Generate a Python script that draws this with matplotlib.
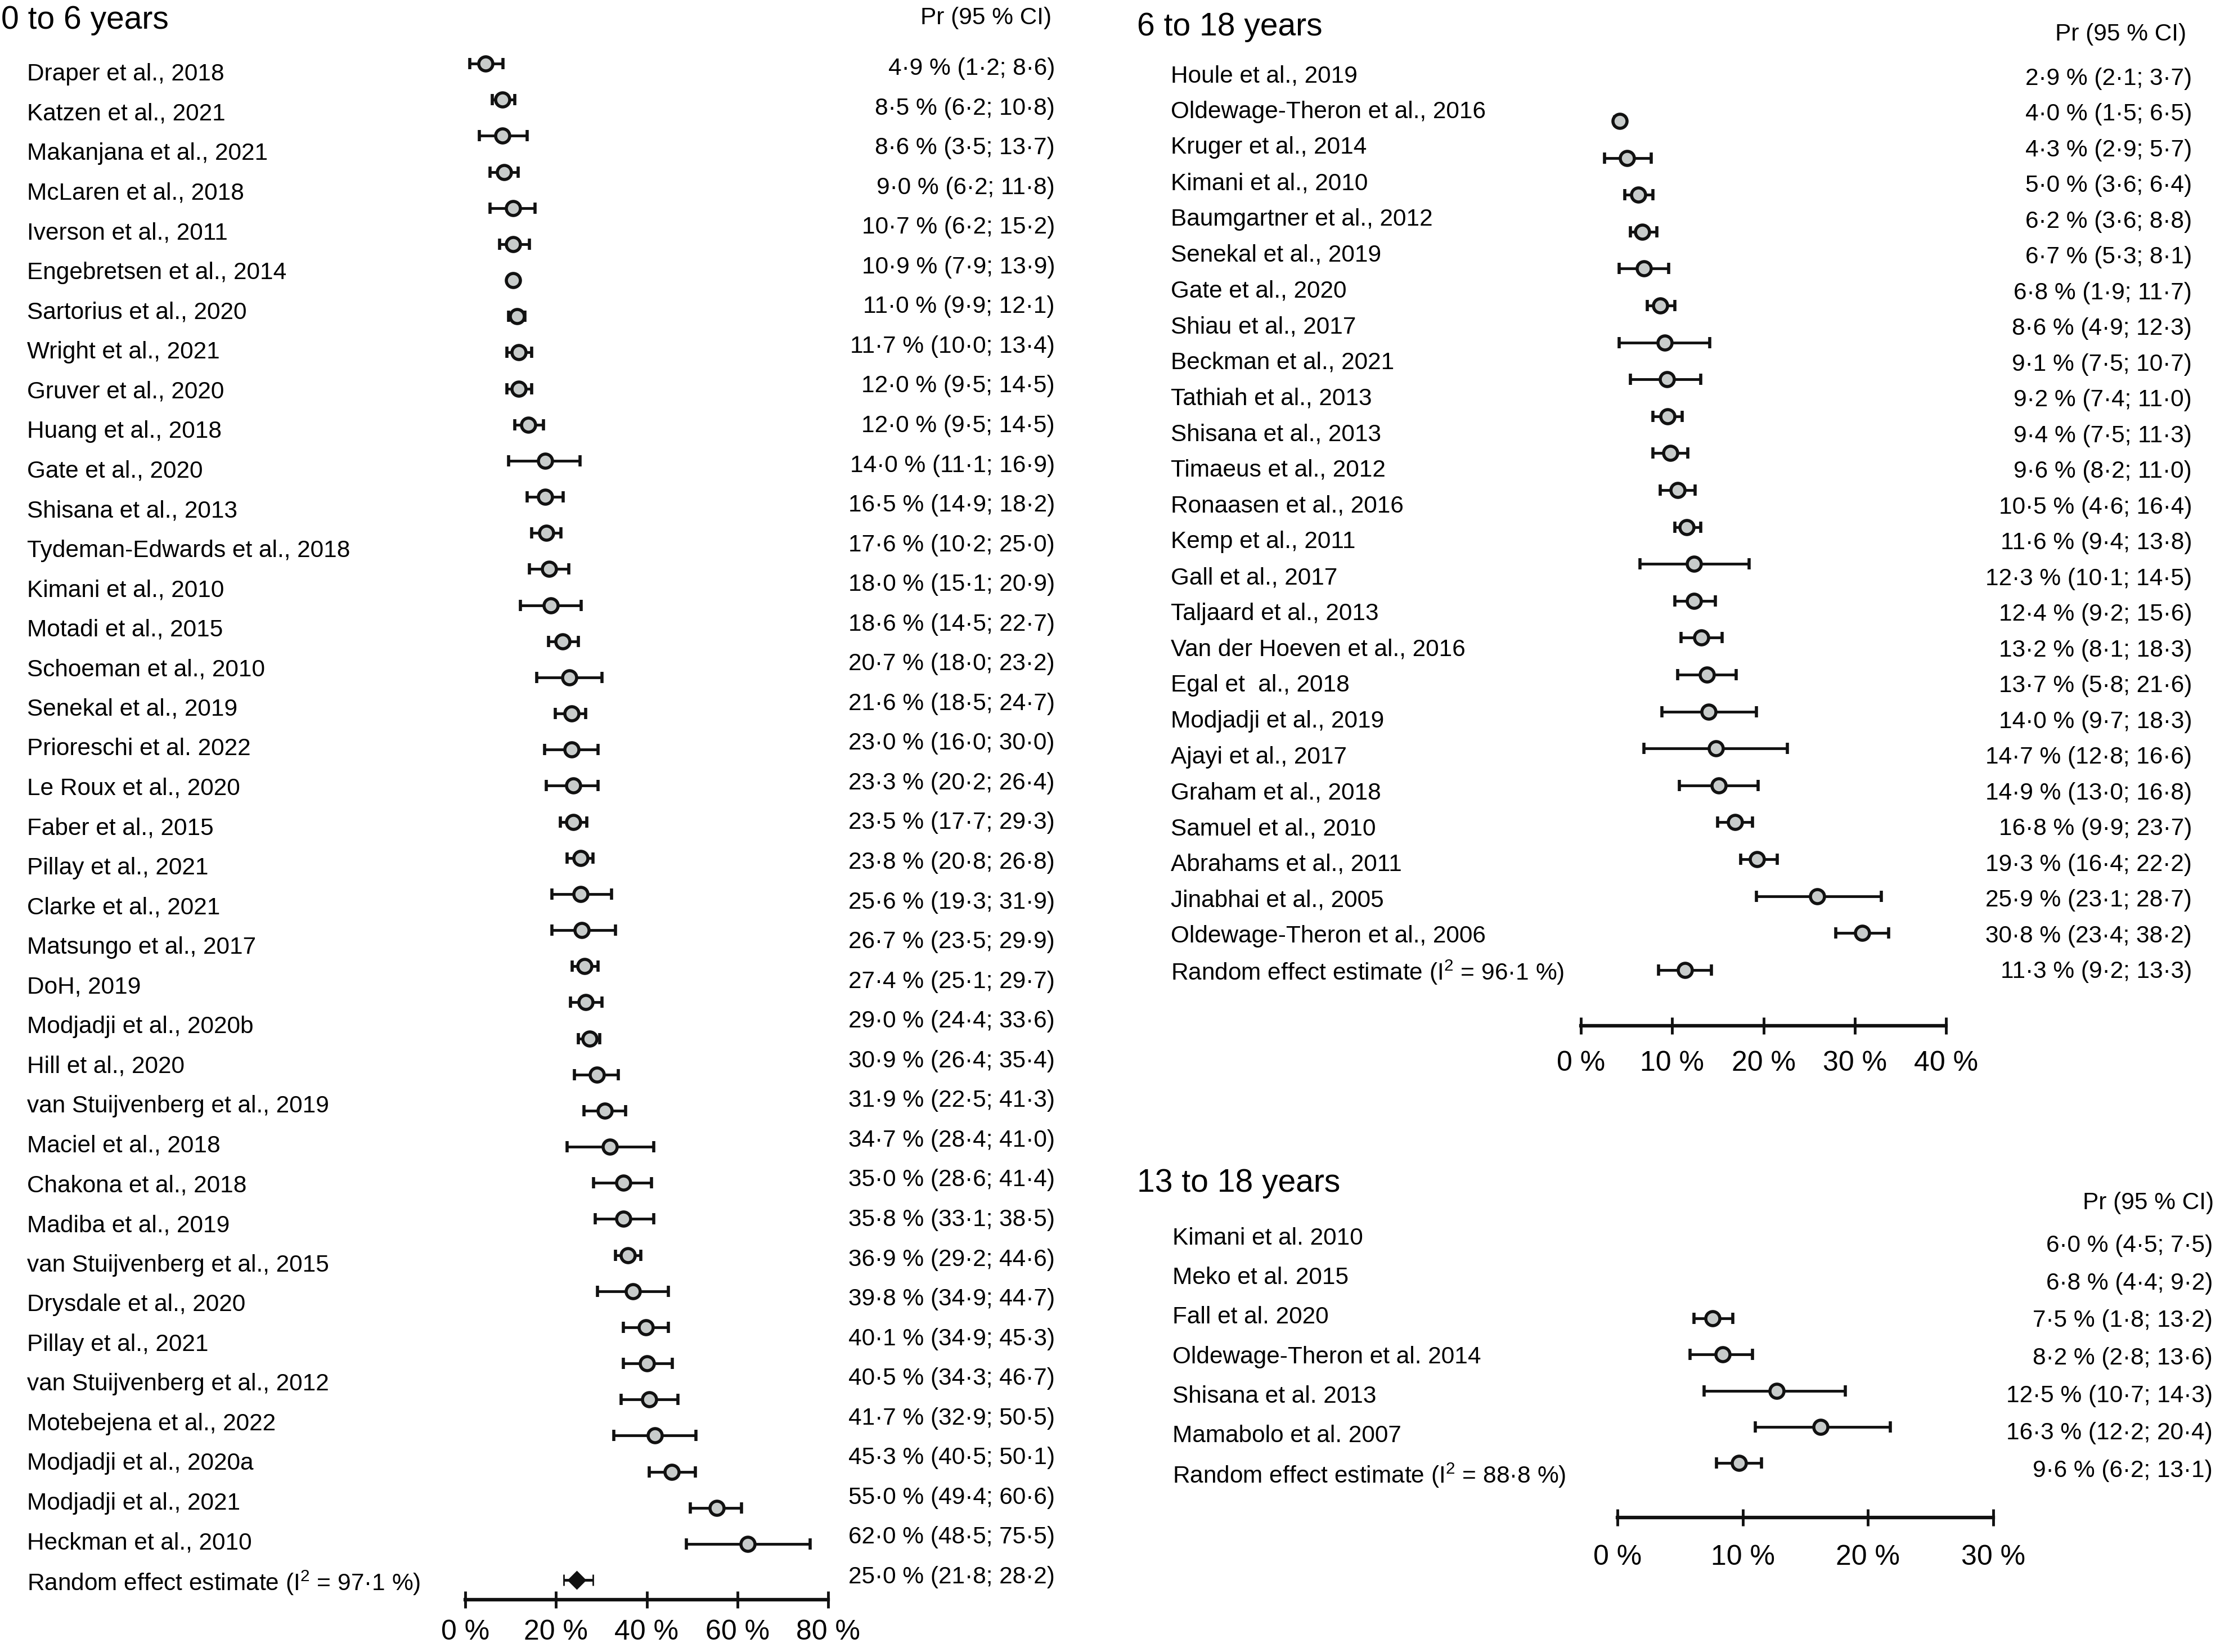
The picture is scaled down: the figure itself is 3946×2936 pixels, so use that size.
import matplotlib as mpl
mpl.use('Agg')
import matplotlib.pyplot as plt
import numpy as np

plt.rcParams['font.family'] = ['Liberation Sans', 'DejaVu Sans']
plt.rcParams['mathtext.fontset'] = 'custom'
plt.rcParams['mathtext.rm'] = 'Liberation Sans'

# ---------------- data: 0 to 6 years ----------------
young_labels = [
    "Draper et al., 2018", "Katzen et al., 2021", "Makanjana et al., 2021",
    "McLaren et al., 2018", "Iverson et al., 2011", "Engebretsen et al., 2014",
    "Sartorius et al., 2020", "Wright et al., 2021", "Gruver et al., 2020",
    "Huang et al., 2018", "Gate et al., 2020", "Shisana et al., 2013",
    "Tydeman-Edwards et al., 2018", "Kimani et al., 2010", "Motadi et al., 2015",
    "Schoeman et al., 2010", "Senekal et al., 2019", "Prioreschi et al. 2022",
    "Le Roux et al., 2020", "Faber et al., 2015", "Pillay et al., 2021",
    "Clarke et al., 2021", "Matsungo et al., 2017", "DoH, 2019",
    "Modjadji et al., 2020b", "Hill et al., 2020", "van Stuijvenberg et al., 2019",
    "Maciel et al., 2018", "Chakona et al., 2018", "Madiba et al., 2019",
    "van Stuijvenberg et al., 2015", "Drysdale et al., 2020", "Pillay et al., 2021",
    "van Stuijvenberg et al., 2012", "Motebejena et al., 2022", "Modjadji et al., 2020a",
    "Modjadji et al., 2021", "Heckman et al., 2010",
    r"Random effect estimate (I$^{\mathrm{2}}$ = 97·1 %)",
]
young_pr = [4.9, 8.5, 8.6, 9.0, 10.7, 10.9, 11.0, 11.7, 12.0, 12.0, 14.0, 16.5, 17.6,
            18.0, 18.6, 20.7, 21.6, 23.0, 23.3, 23.5, 23.8, 25.6, 26.7, 27.4, 29.0,
            30.9, 31.9, 34.7, 35.0, 35.8, 36.9, 39.8, 40.1, 40.5, 41.7, 45.3, 55.0,
            62.0, 25.0]
young_lo = [1.2, 6.2, 3.5, 6.2, 6.2, 7.9, 9.9, 10.0, 9.5, 9.5, 11.1, 14.9, 10.2,
            15.1, 14.5, 18.0, 18.5, 16.0, 20.2, 17.7, 20.8, 19.3, 23.5, 25.1, 24.4,
            26.4, 22.5, 28.4, 28.6, 33.1, 29.2, 34.9, 34.9, 34.3, 32.9, 40.5, 49.4,
            48.5, 21.8]
young_hi = [8.6, 10.8, 13.7, 11.8, 15.2, 13.9, 12.1, 13.4, 14.5, 14.5, 16.9, 18.2, 25.0,
            20.9, 22.7, 23.2, 24.7, 30.0, 26.4, 29.3, 26.8, 31.9, 29.9, 29.7, 33.6,
            35.4, 41.3, 41.0, 41.4, 38.5, 44.6, 44.7, 45.3, 46.7, 50.5, 50.1, 60.6,
            75.5, 28.2]
# plotted points as they appear in the figure
young_est = np.array([4.5, 8.2, 8.2, 8.6, 10.6, 10.6, 10.6, 11.4, 11.8, 11.8, 13.9, 17.6,
                      17.6, 17.9, 18.5, 18.8, 21.4, 23.0, 23.4, 23.4, 23.8, 23.8, 25.4,
                      25.4, 25.7, 26.3, 26.6, 27.4, 29.0, 30.7, 31.9, 34.8, 34.8, 35.8,
                      36.9, 39.8, 40.1, 40.6, 41.8, 45.5, 55.4, 62.3])
young_elo = np.array([1.0, 5.9, 3.1, 5.5, 5.5, 7.6, 9.9, 9.6, 9.2, 9.2, 10.9, 9.6,
                      13.7, 14.6, 14.1, 12.2, 18.3, 15.8, 19.9, 17.5, 17.9, 20.9, 22.4,
                      19.1, 19.1, 23.6, 23.2, 24.9, 24.0, 26.2, 22.5, 28.3, 28.6, 33.1,
                      29.1, 34.8, 34.8, 34.4, 32.8, 40.6, 49.6, 48.8])
young_ehi = np.array([8.3, 10.9, 13.7, 11.6, 15.4, 14.1, 11.4, 13.2, 14.6, 14.6, 17.2, 25.3,
                      21.6, 21.1, 22.8, 25.6, 24.9, 30.1, 26.5, 29.3, 29.3, 26.8, 28.1,
                      32.2, 33.1, 29.3, 30.1, 29.7, 33.7, 35.4, 41.5, 41.1, 41.5, 38.7,
                      44.8, 44.8, 45.7, 46.9, 50.9, 50.7, 60.9, 76.0])
young_re = (24.6, 21.7, 28.1)
young_ticks = [0, 20, 40, 60, 80]

# ---------------- data: 6 to 18 years ----------------
school_labels = [
    "Houle et al., 2019", "Oldewage-Theron et al., 2016", "Kruger et al., 2014",
    "Kimani et al., 2010", "Baumgartner et al., 2012", "Senekal et al., 2019",
    "Gate et al., 2020", "Shiau et al., 2017", "Beckman et al., 2021",
    "Tathiah et al., 2013", "Shisana et al., 2013", "Timaeus et al., 2012",
    "Ronaasen et al., 2016", "Kemp et al., 2011", "Gall et al., 2017",
    "Taljaard et al., 2013", "Van der Hoeven et al., 2016", "Egal et  al., 2018",
    "Modjadji et al., 2019", "Ajayi et al., 2017", "Graham et al., 2018",
    "Samuel et al., 2010", "Abrahams et al., 2011", "Jinabhai et al., 2005",
    "Oldewage-Theron et al., 2006",
    r"Random effect estimate (I$^{\mathrm{2}}$ = 96·1 %)",
]
school_pr = [2.9, 4.0, 4.3, 5.0, 6.2, 6.7, 6.8, 8.6, 9.1, 9.2, 9.4, 9.6, 10.5, 11.6,
             12.3, 12.4, 13.2, 13.7, 14.0, 14.7, 14.9, 16.8, 19.3, 25.9, 30.8, 11.3]
school_lo = [2.1, 1.5, 2.9, 3.6, 3.6, 5.3, 1.9, 4.9, 7.5, 7.4, 7.5, 8.2, 4.6, 9.4,
             10.1, 9.2, 8.1, 5.8, 9.7, 12.8, 13.0, 9.9, 16.4, 23.1, 23.4, 9.2]
school_hi = [3.7, 6.5, 5.7, 6.4, 8.8, 8.1, 11.7, 12.3, 10.7, 11.0, 11.3, 11.0, 16.4, 13.8,
             14.5, 15.6, 18.3, 21.6, 18.3, 16.6, 16.8, 23.7, 22.2, 28.7, 38.2, 13.3]
school_est = np.array([4.25, 5.05, 6.3, 6.7, 6.9, 8.7, 9.2, 9.4, 9.5, 9.8, 10.6, 11.6,
                       12.4, 12.4, 13.2, 13.8, 14.0, 14.8, 15.1, 16.9, 19.3, 25.9, 30.8])
school_elo = np.array([3.7, 2.6, 4.8, 5.4, 4.2, 7.3, 4.2, 5.4, 7.9, 7.9, 8.7, 10.3,
                       6.5, 10.3, 11.0, 10.6, 8.9, 6.9, 10.8, 15.0, 17.5, 19.2, 27.9])
school_ehi = np.array([4.8, 7.7, 7.9, 8.3, 9.6, 10.3, 14.1, 13.1, 11.1, 11.7, 12.5, 13.1,
                       18.4, 14.7, 15.5, 17.0, 19.2, 22.6, 19.4, 18.8, 21.5, 32.9, 33.7])
school_re = (11.4, 8.5, 14.3)
school_ticks = [0, 10, 20, 30, 40]

# ---------------- data: 13 to 18 years ----------------
teen_labels = [
    "Kimani et al. 2010", "Meko et al. 2015", "Fall et al. 2020",
    "Oldewage-Theron et al. 2014", "Shisana et al. 2013", "Mamabolo et al. 2007",
    r"Random effect estimate (I$^{\mathrm{2}}$ = 88·8 %)",
]
teen_pr = [6.0, 6.8, 7.5, 8.2, 12.5, 16.3, 9.6]
teen_lo = [4.5, 4.4, 1.8, 2.8, 10.7, 12.2, 6.2]
teen_hi = [7.5, 9.2, 13.2, 13.6, 14.3, 20.4, 13.1]
teen_est = np.array([7.6, 8.4, 12.7, 16.2])
teen_elo = np.array([6.1, 5.8, 6.9, 11.0])
teen_ehi = np.array([9.2, 10.8, 18.2, 21.8])
teen_re = (9.7, 7.9, 11.5)
teen_ticks = [0, 10, 20, 30]

# ---------------- layout helpers ----------------
W, H, DPI = 3946, 2936, 100
FILL = '#c8cccb'
EDGE = '#111111'
FS = 30.5

fig = plt.figure(figsize=(W / DPI, H / DPI), dpi=DPI)


def px_axes(left, top, right, bottom):
    return fig.add_axes([left / W, 1 - bottom / H, (right - left) / W, (bottom - top) / H])


def fig_text(x, y, s, **kw):
    fig.text(x / W, 1 - y / H, s, **kw)


def fmt_ci(p, l, h):
    return f'{p:.1f} % ({l:.1f}; {h:.1f})'.replace('.', '·')


def text_column(left, right, first, last, n, texts, ha):
    ax = px_axes(left, first, right, last)
    ax.set_xlim(0, 1)
    ax.set_ylim(n - 1, 0)
    ax.axis('off')
    x = 0 if ha == 'left' else 1
    for i, s in enumerate(texts):
        ax.text(x, i, s, ha=ha, va='center', fontsize=FS, clip_on=False)


def forest(x0, x1, xmax, first, step, axis_y, est, lo, hi, re, ticks, pad, diamond=False):
    ax = px_axes(x0, first - step, x1, axis_y)
    ax.set_xlim(0, xmax)
    ax.set_ylim((axis_y - first) / step, -1)
    rows = np.arange(len(est))
    style = dict(ecolor=EDGE, elinewidth=3.5, capsize=7, capthick=4, mec=EDGE)
    ax.errorbar(est, rows, xerr=[est - lo, hi - est], fmt='o', ms=18, mfc=FILL,
                mew=4, **style)
    if diamond:
        ax.errorbar([re[0]], [len(est)], xerr=[[re[0] - re[1]], [re[2] - re[0]]],
                    fmt='D', ms=15, mfc=EDGE, mew=2, **style)
    else:
        ax.errorbar([re[0]], [len(est)], xerr=[[re[0] - re[1]], [re[2] - re[0]]],
                    fmt='o', ms=18, mfc=FILL, mew=4, **style)
    for s in ['top', 'left', 'right']:
        ax.spines[s].set_visible(False)
    ax.spines['bottom'].set_linewidth(4.5)
    ax.spines['bottom'].set_color(EDGE)
    ax.set_yticks([])
    ax.set_xticks(ticks)
    ax.set_xticklabels([f'{t} %' for t in ticks])
    ax.tick_params(axis='x', direction='inout', length=21, width=3.5, color=EDGE,
                   labelsize=36, pad=pad)
    ax.patch.set_visible(False)
    return ax


# ---------------- panel: 0 to 6 years ----------------
fig_text(2, 36, "0 to 6 years", fontsize=41, ha='left', va='center')
fig_text(1869, 32, "Pr (95 % CI)", fontsize=FS, ha='right', va='center')
text_column(48, 1875, 132, 2813, len(young_labels), young_labels, 'left')
text_column(48, 1875, 122, 2803, len(young_labels),
            [fmt_ci(*v) for v in zip(young_pr, young_lo, young_hi)], 'right')
forest(827, 1472, 80, 113, 64.17, 2843, young_est, young_elo, young_ehi, young_re,
       young_ticks, 15, diamond=True)

# ---------------- panel: 6 to 18 years ----------------
fig_text(2021, 48, "6 to 18 years", fontsize=41, ha='left', va='center')
fig_text(3886, 61, "Pr (95 % CI)", fontsize=FS, ha='right', va='center')
text_column(2081, 3896, 135, 1728, len(school_labels), school_labels, 'left')
text_column(2081, 3896, 140, 1727, len(school_labels),
            [fmt_ci(*v) for v in zip(school_pr, school_lo, school_hi)], 'right')
forest(2810, 3459, 40, 215, 65.6, 1823, school_est, school_elo, school_ehi, school_re,
       school_ticks, 21)

# ---------------- panel: 13 to 18 years ----------------
fig_text(2021, 2103, "13 to 18 years", fontsize=41, ha='left', va='center')
fig_text(3935, 2138, "Pr (95 % CI)", fontsize=FS, ha='right', va='center')
text_column(2084, 3933, 2201, 2622, len(teen_labels), teen_labels, 'left')
text_column(2084, 3933, 2214, 2614, len(teen_labels),
            [fmt_ci(*v) for v in zip(teen_pr, teen_lo, teen_hi)], 'right')
forest(2875, 3543, 30, 2343, 64.25, 2697, teen_est, teen_elo, teen_ehi, teen_re,
       teen_ticks, 24)

fig.savefig('out.png', dpi=DPI, facecolor='white')
